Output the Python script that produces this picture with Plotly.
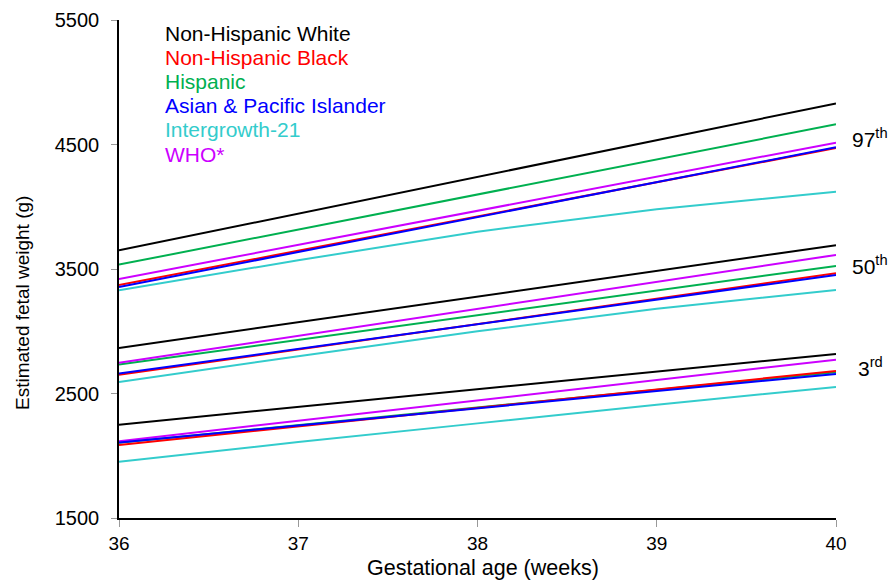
import plotly.graph_objects as go

weeks = [36, 37, 38, 39, 40]

# Estimated fetal weight (g) by week: 3rd, 50th, 97th percentiles
white_p3 = [2250, 2392, 2534, 2676, 2818]
white_p50 = [2866, 3072, 3278, 3485, 3691]
white_p97 = [3650, 3945, 4240, 4535, 4830]

black_p3 = [2087, 2236, 2384, 2533, 2681]
black_p50 = [2650, 2854, 3058, 3262, 3466]
black_p97 = [3372, 3647, 3922, 4197, 4472]

hispanic_p3 = [2105, 2247, 2388, 2530, 2671]
hispanic_p50 = [2732, 2930, 3128, 3327, 3525]
hispanic_p97 = [3535, 3817, 4099, 4380, 4662]

asian_p3 = [2106, 2244, 2382, 2519, 2657]
asian_p50 = [2660, 2858, 3056, 3254, 3452]
asian_p97 = [3356, 3637, 3917, 4198, 4478]

intergrowth_p3 = [1951, 2110, 2260, 2410, 2553]
intergrowth_p50 = [2593, 2800, 3000, 3180, 3332]
intergrowth_p97 = [3330, 3570, 3800, 3980, 4121]

who_p3 = [2117, 2281, 2445, 2608, 2772]
who_p50 = [2746, 2963, 3180, 3396, 3613]
who_p97 = [3420, 3694, 3968, 4241, 4515]

series_names = ["Non-Hispanic White", "Non-Hispanic Black", "Hispanic",
                "Asian & Pacific Islander", "Intergrowth-21", "WHO*"]
series_colors = ["#000000", "#ff0000", "#00b050", "#0000ff", "#33cccc", "#cc00ff"]
series_data = [
    (white_p3, white_p50, white_p97),
    (black_p3, black_p50, black_p97),
    (hispanic_p3, hispanic_p50, hispanic_p97),
    (asian_p3, asian_p50, asian_p97),
    (intergrowth_p3, intergrowth_p50, intergrowth_p97),
    (who_p3, who_p50, who_p97),
]
draw_order = [0, 2, 5, 4, 1, 3]

percentile_labels = ["3<sup>rd</sup>", "50<sup>th</sup>", "97<sup>th</sup>"]
percentile_label_y = [2714, 3533, 4552]

yticks = [1500, 2500, 3500, 4500, 5500]
xticks = [36, 37, 38, 39, 40]

fig = go.Figure()
for i in draw_order:
    for vals in series_data[i]:
        fig.add_trace(go.Scatter(
            x=weeks, y=vals, mode="lines",
            line=dict(color=series_colors[i], width=2),
            name=series_names[i], showlegend=False, hoverinfo="skip"))

font_main = "Liberation Sans, Arial, sans-serif"

W, H = 888, 583
plot_l, plot_r, plot_t, plot_b = 119, 836, 20, 518


def px_to_paper(px, py):
    return (px - plot_l) / (plot_r - plot_l), (plot_b - py) / (plot_b - plot_t)


annotations = []
for k, (name, col) in enumerate(zip(series_names, series_colors)):
    ax, ay = px_to_paper(163, 33 + 24.2 * k)
    annotations.append(dict(
        x=ax, y=ay, xref="paper", yref="paper",
        text=name, showarrow=False, xanchor="left", yanchor="middle",
        font=dict(family=font_main, size=21, color=col)))

for lab, yv in zip(percentile_labels, percentile_label_y):
    annotations.append(dict(
        x=40, y=yv, xref="x", yref="y", text=lab, showarrow=False,
        xanchor="center", yanchor="middle", xshift=34,
        font=dict(family=font_main, size=21, color="#000000")))

# axis titles
tx, ty = px_to_paper(483, 568)
annotations.append(dict(
    x=tx, y=ty, xref="paper", yref="paper", text="Gestational age (weeks)",
    showarrow=False, xanchor="center", yanchor="middle",
    font=dict(family=font_main, size=21.5, color="#000000")))
tx, ty = px_to_paper(22, 303)
annotations.append(dict(
    x=tx, y=ty, xref="paper", yref="paper", text="Estimated fetal weight (g)",
    showarrow=False, xanchor="center", yanchor="middle", textangle=-90,
    font=dict(family=font_main, size=19, color="#000000")))

fig.update_layout(
    width=W, height=H,
    margin=dict(l=plot_l, r=W - plot_r, t=plot_t, b=H - plot_b, autoexpand=False),
    paper_bgcolor="white", plot_bgcolor="white",
    font=dict(family=font_main, color="#000000"),
    annotations=annotations,
    xaxis=dict(
        range=[36, 40], tickvals=xticks, ticktext=[str(t) for t in xticks],
        showgrid=False, zeroline=False, showline=True, linecolor="#000000",
        linewidth=1.5, ticks="outside", ticklen=7, tickcolor="#999999",
        tickfont=dict(family=font_main, size=19)),
    yaxis=dict(
        range=[1500, 5500], tickvals=yticks, ticktext=[str(t) for t in yticks],
        showgrid=False, zeroline=False, showline=True, linecolor="#000000",
        linewidth=1.5, ticks="outside", ticklen=6, tickcolor="#999999",
        ticklabelstandoff=8,
        tickfont=dict(family=font_main, size=20)),
)

fig.write_html("out.html", config={"displayModeBar": False},
               post_script="document.body.style.margin='0px';")
